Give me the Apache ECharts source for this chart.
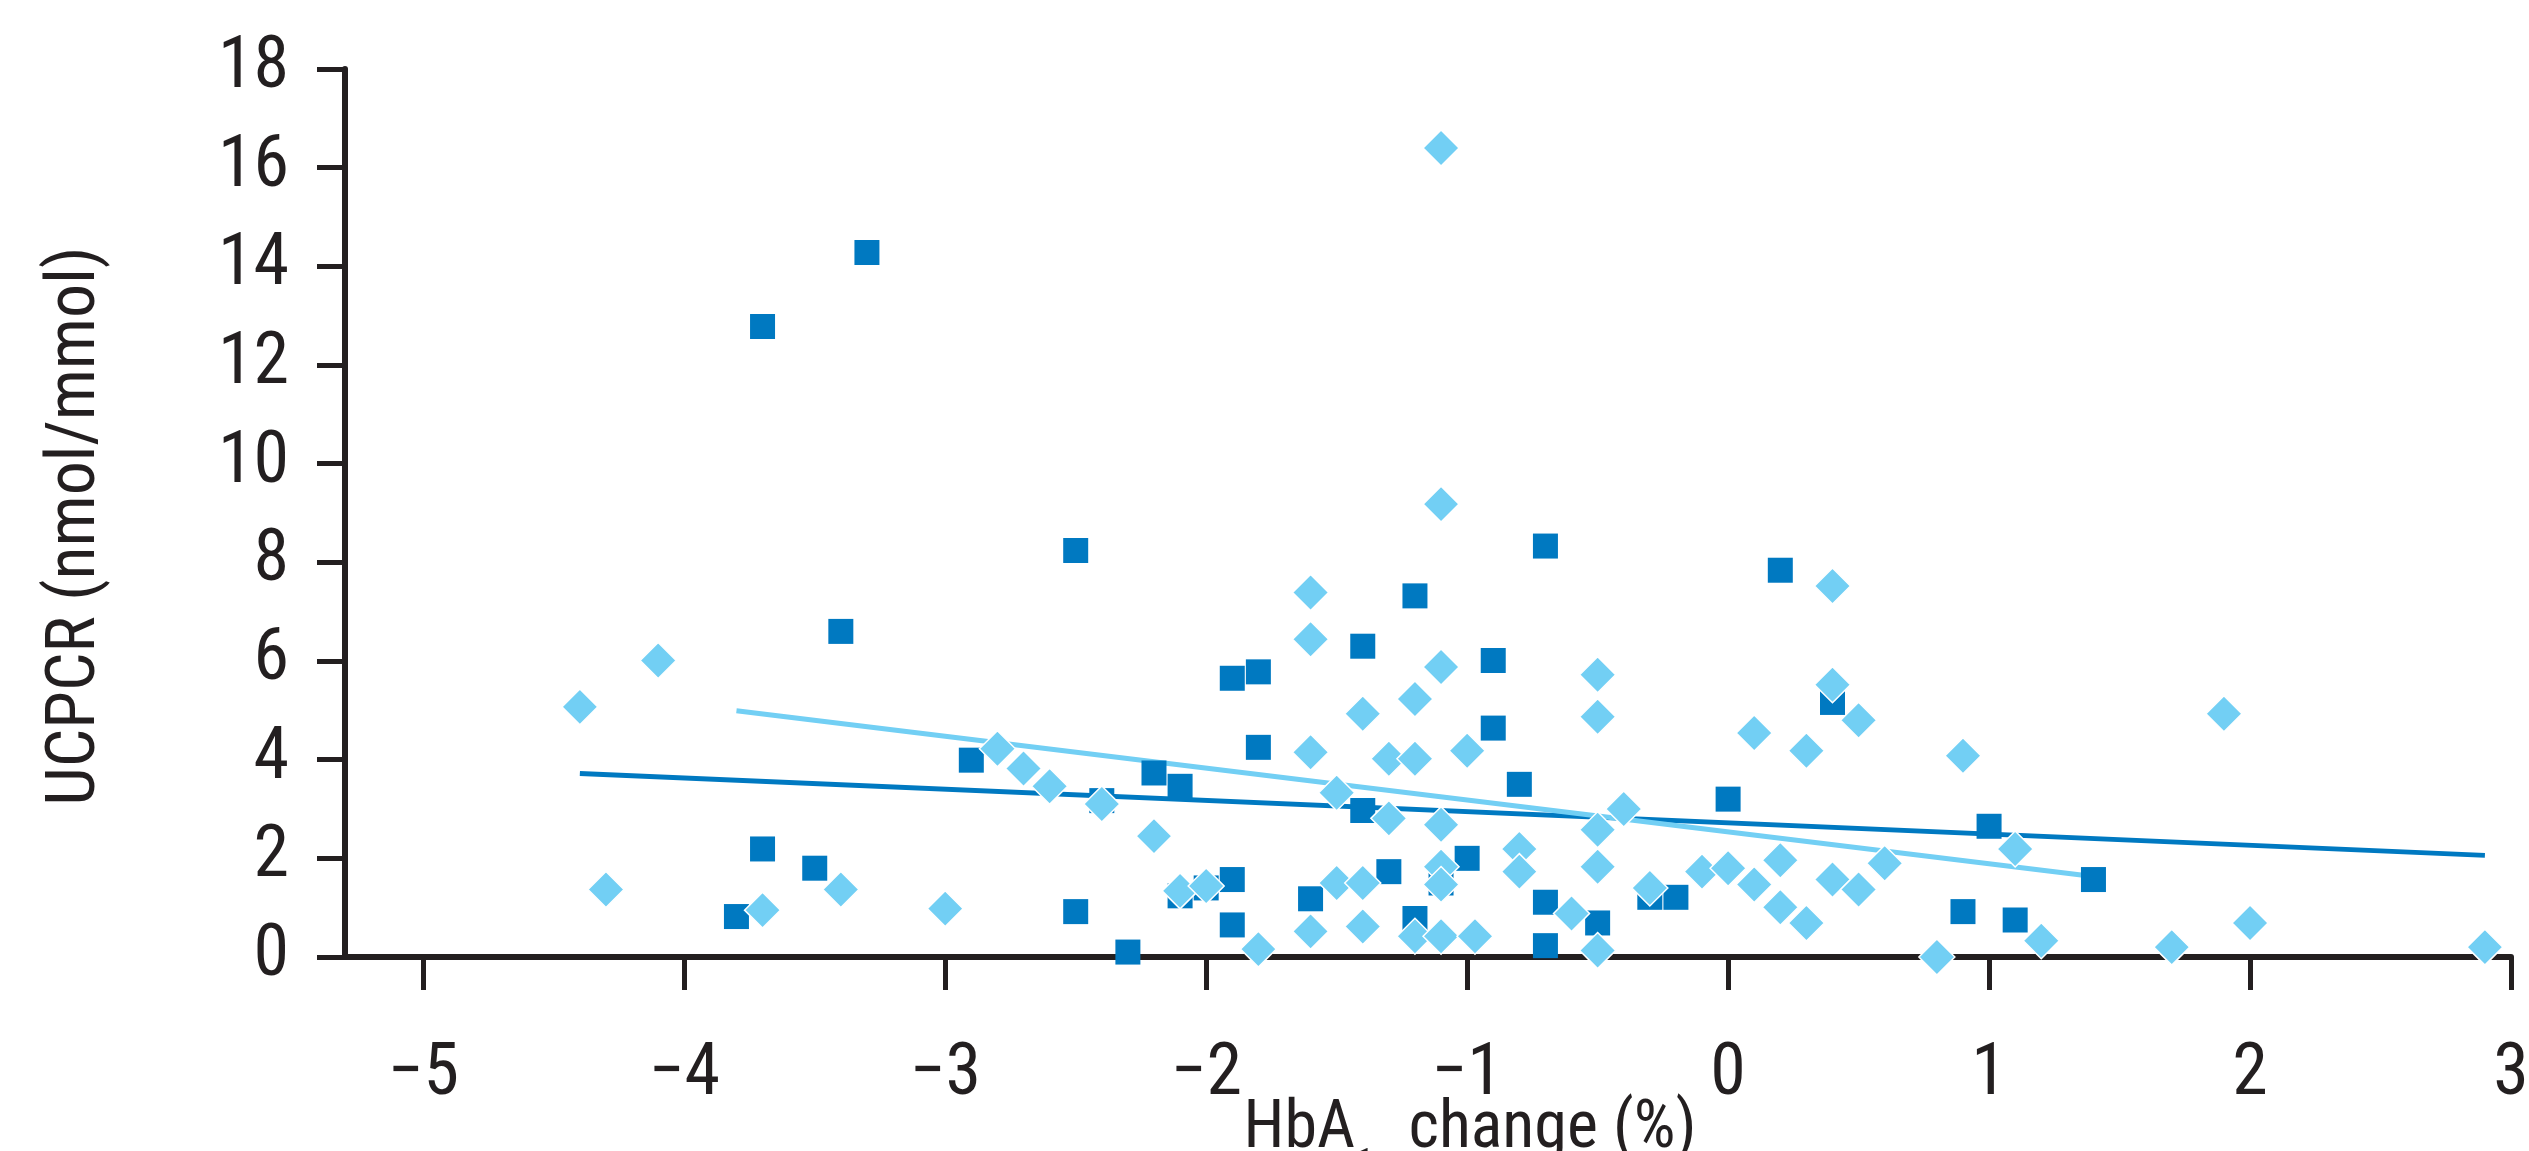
<!DOCTYPE html>
<html>
<head>
<meta charset="utf-8">
<script src="https://cdn.jsdelivr.net/npm/echarts@6/dist/echarts.min.js"></script>
<style>
html,body{margin:0;padding:0;background:#fff;}
#main{width:2529px;height:1151px;}
</style>
</head>
<body>
<div id="main"></div>
<script>
// ---- data ----
const squareX = [-3.8,-3.7,-3.7,-3.5,-3.4,-3.3,-2.9,-2.5,-2.5,-2.4,-2.3,-2.2,-2.1,-2.1,-2.0,-1.9,-1.9,-1.9,-1.8,-1.8,-1.6,-1.4,-1.4,-1.3,-1.2,-1.2,-1.1,-1.0,-0.9,-0.9,-0.8,-0.7,-0.7,-0.7,-0.5,-0.3,-0.2,0.0,0.2,0.4,0.9,1.0,1.1,1.4];
const squareY = [0.82,12.78,2.19,1.8,6.6,14.28,3.99,8.24,0.92,3.17,0.1,3.73,3.46,1.24,1.4,5.65,1.57,0.65,5.78,4.25,1.18,6.3,2.97,1.73,7.32,0.78,1.5,2.0,6.01,4.64,3.5,8.33,1.11,0.23,0.69,1.21,1.21,3.2,7.84,5.16,0.92,2.65,0.75,1.57];

const diamondX = [-4.4,-4.3,-4.1,-3.7,-3.4,-3.0,-2.8,-2.7,-2.6,-2.4,-2.2,-2.1,-2.0,-1.8,-1.6,-1.6,-1.6,-1.6,-1.5,-1.5,-1.4,-1.4,-1.4,-1.3,-1.3,-1.2,-1.2,-1.2,-1.1,-1.1,-1.1,-1.1,-1.1,-1.1,-1.1,-1.0,-0.97,-0.8,-0.8,-0.6,-0.5,-0.5,-0.5,-0.5,-0.5,-0.4,-0.3,-0.1,0.0,0.1,0.1,0.2,0.2,0.3,0.3,0.4,0.4,0.4,0.5,0.5,0.6,0.8,0.9,1.1,1.2,1.7,1.9,2.0,2.9];
const diamondY = [5.07,1.37,6.01,0.95,1.37,0.98,4.22,3.82,3.46,3.1,2.45,1.34,1.44,0.16,7.39,6.44,4.15,0.52,3.33,1.5,4.93,1.5,0.62,4.02,2.81,5.23,4.02,0.42,1.83,1.47,0.42,5.88,9.18,2.68,16.4,4.18,0.42,2.19,1.73,0.88,5.72,4.87,2.58,1.83,0.13,3.0,1.4,1.73,1.8,4.54,1.47,1.96,1.01,4.18,0.69,7.52,5.52,1.57,4.8,1.37,1.9,0.0,4.08,2.19,0.33,0.2,4.93,0.69,0.2];

const trendDarkX = [-4.4, 2.9];
const trendDarkY = [3.72, 2.06];
const trendLightX = [-3.8, 1.4];
const trendLightY = [4.99, 1.63];

const xTicks = [-5,-4,-3,-2,-1,0,1,2,3];
const yTickStep = 2;

// ---- styling ----
const INK = '#231F20';
const DARK = '#0079C1';
const LIGHT = '#72CFF4';
const FONT = "'Roboto Condensed','Liberation Sans Narrow','DejaVu Sans Condensed',sans-serif";
const WEIGHT = 400;

const zip = (a, b) => a.map((v, i) => [v, b[i]]);

const chart = echarts.init(document.getElementById('main'), null, {renderer: 'canvas'});
chart.setOption({
  animation: false,
  backgroundColor: '#fff',
  grid: {left: 345, right: 18, top: 69, bottom: 194, containLabel: false, outerBoundsMode: 'none'},
  xAxis: {
    type: 'value',
    min: -5.3,
    max: 3,
    splitLine: {show: false},
    axisLine: {show: true, onZero: false, lineStyle: {color: INK, width: 6}},
    axisTick: {show: true, customValues: xTicks, length: 33, lineStyle: {color: INK, width: 5}},
    axisLabel: {
      customValues: xTicks,
      margin: 83,
      color: INK,
      fontFamily: FONT,
      fontWeight: WEIGHT,
      fontSize: 72,
      formatter: v => String(v).replace('-', '\u2212')
    },
    name: '{m|HbA}{s|1c}{m| change (%)}',
    nameLocation: 'middle',
    nameGap: 140,
    nameMoveOverlap: false,
    nameTextStyle: {
      color: INK,
      fontFamily: FONT,
      fontWeight: WEIGHT,
      fontSize: 66,
      padding: [0, 0, 0, 84],
      rich: {
        m: {fontSize: 66, lineHeight: 66, fontFamily: FONT, fontWeight: WEIGHT, color: INK, verticalAlign: 'top'},
        s: {fontSize: 40, lineHeight: 40, fontFamily: FONT, fontWeight: WEIGHT, color: INK, verticalAlign: 'top', padding: [50, 0, 0, 0]}
      }
    }
  },
  yAxis: {
    type: 'value',
    min: 0,
    max: 18,
    interval: yTickStep,
    splitLine: {show: false},
    axisLine: {show: true, onZero: false, lineStyle: {color: INK, width: 6}},
    axisTick: {show: true, length: 28, lineStyle: {color: INK, width: 5}},
    axisLabel: {margin: 56, color: INK, fontFamily: FONT, fontWeight: WEIGHT, fontSize: 72, padding: [14, 0, 0, 0]},
    name: 'UCPCR (nmol/mmol)',
    nameLocation: 'middle',
    nameGap: 234,
    nameMoveOverlap: false,
    nameTextStyle: {color: INK, fontFamily: FONT, fontWeight: WEIGHT, fontSize: 68, padding: [0, 26, 0, 0]}
  },
  series: [
    {
      type: 'line',
      data: zip(trendDarkX, trendDarkY),
      symbol: 'none',
      lineStyle: {color: DARK, width: 5},
      z: 2,
      silent: true
    },
    {
      type: 'line',
      data: zip(trendLightX, trendLightY),
      symbol: 'none',
      lineStyle: {color: LIGHT, width: 5},
      z: 2,
      silent: true
    },
    {
      type: 'scatter',
      data: zip(squareX, squareY),
      symbol: 'rect',
      symbolSize: 25,
      itemStyle: {color: DARK, opacity: 1},
      z: 3
    },
    {
      type: 'scatter',
      data: zip(diamondX, diamondY),
      symbol: 'diamond',
      symbolSize: 36,
      itemStyle: {color: LIGHT, opacity: 1, borderColor: '#fff', borderWidth: 1.5},
      z: 4
    }
  ]
});
</script>
</body>
</html>
